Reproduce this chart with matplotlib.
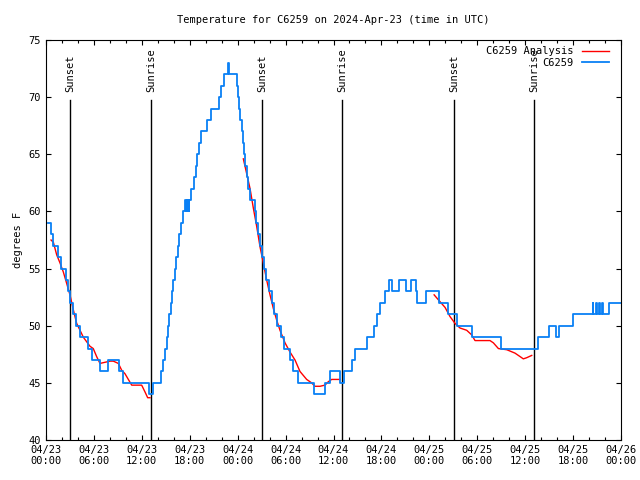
import matplotlib
matplotlib.use("Agg")
import matplotlib.pyplot as plt

plt.rcParams['font.family'] = ['DejaVu Sans Mono']

# hours since 2024-04-23 00:00 UTC
# observed temperature (changes, held until the next change)
obs_t = [0.29, 0.6, 0.9, 1.5, 1.93, 2.45, 2.78, 3.05, 3.4, 3.73, 4.3, 5.2, 5.76,
         6.74, 7.74, 9.15, 9.64, 12.87, 13.45, 14.45, 14.7, 14.9, 15.1, 15.3,
         15.45, 15.65, 15.8, 15.95, 16.15, 16.3, 16.5, 16.68, 16.9, 17.15, 17.4,
         17.55, 17.62, 17.7, 17.78, 17.85, 17.92, 18.2, 18.55, 18.75, 18.95,
         19.12, 19.45, 20.2, 20.65, 21.65, 21.95, 22.25, 22.75, 22.9, 23.9,
         24.05, 24.2, 24.35, 24.48, 24.62, 24.78, 24.95, 25.15, 25.35, 25.6,
         26.12, 26.28, 26.5, 26.78, 27.0, 27.35, 27.6, 27.95, 28.3, 28.6, 28.95,
         29.4, 29.8, 30.6, 30.9, 31.6, 33.6, 34.95, 35.55, 36.78, 37.35, 38.3,
         38.7, 40.15, 41.05, 41.5, 41.85, 42.4, 42.9, 43.35, 44.15, 45.1, 45.75,
         46.3, 46.45, 47.6, 49.15, 50.4, 51.45, 53.3, 57.0, 61.6, 63.0, 63.85,
         64.2, 66.0, 68.45, 68.55, 68.85, 68.95, 69.25, 69.35, 69.6, 69.75,
         70.45, 71.95]
obs_temp = [59, 58, 57, 56, 55, 54, 53, 52, 51, 50, 49, 48, 47,
            46, 47, 46, 45, 44, 45, 46, 47, 48, 49, 50,
            51, 52, 53, 54, 55, 56, 57, 58, 59, 60, 61,
            60, 61, 60, 61, 60, 61, 62, 63, 64, 65,
            66, 67, 68, 69, 70, 71, 72, 73, 72, 71,
            70, 69, 68, 67, 66, 65, 64, 63, 62, 61,
            60, 59, 58, 57, 56, 55, 54, 53, 52, 51, 50,
            49, 48, 47, 46, 45, 44, 45, 46, 45, 46, 47,
            48, 49, 50, 51, 52, 53, 54, 53, 54, 53, 54,
            53, 52, 53, 52, 51, 50, 49, 48, 49, 50, 49,
            50, 51, 52, 51, 52, 51, 52, 51, 52, 51,
            52, 52]

# analysis temperature, three pieces
ana1_t = [0.63, 0.92, 1.34, 1.75, 2.17, 2.59, 3.0, 3.42, 3.84, 4.26, 4.67, 5.09,
          5.51, 5.92, 6.34, 6.76, 7.39, 8.01, 8.43, 9.06, 9.48, 9.89, 10.31,
          10.73, 11.98, 12.4, 12.73, 13.02]
ana1_temp = [57.5, 57.3, 56.2, 55.5, 54.7, 53.7, 52.7, 51.4, 50.2, 49.6, 49.0, 48.6,
             48.2, 48.0, 47.3, 46.7, 46.8, 46.9, 46.9, 46.7, 46.1, 45.8, 45.3,
             44.8, 44.8, 44.2, 43.7, 43.7]
ana2_t = [24.71, 25.13, 25.55, 25.96, 26.38, 26.8, 27.21, 27.63, 28.05, 28.47,
          28.88, 29.3, 29.93, 30.55, 31.18, 31.8, 32.64, 33.26, 33.68, 34.31,
          34.93, 35.35, 35.77, 36.39, 36.81]
ana2_temp = [64.6, 63.3, 62.0, 60.3, 58.7, 56.9, 55.5, 54.0, 52.7, 51.5,
             50.5, 49.6, 48.5, 47.7, 47.0, 46.0, 45.3, 45.0, 44.7, 44.7,
             44.8, 45.1, 45.3, 45.3, 45.3]
ana3_t = [48.6, 49.34, 49.97, 50.59, 51.22, 51.84, 52.68, 53.3, 53.72, 54.35,
          55.6, 56.02, 56.65, 57.7, 58.73, 59.36, 59.77, 60.19, 60.82]
ana3_temp = [52.7, 52.1, 51.6, 50.8, 50.2, 49.8, 49.6, 49.2, 48.7, 48.7,
             48.7, 48.5, 48.0, 47.9, 47.6, 47.3, 47.1, 47.2, 47.4]

sun_t = [3.05, 13.18, 27.09, 37.1, 51.13, 61.15]
sun_names = ["Sunset", "Sunrise", "Sunset", "Sunrise", "Sunset", "Sunrise"]

tick_hours = list(range(0, 73, 6))
tick_labels = ["04/23\n00:00", "04/23\n06:00", "04/23\n12:00", "04/23\n18:00",
               "04/24\n00:00", "04/24\n06:00", "04/24\n12:00", "04/24\n18:00",
               "04/25\n00:00", "04/25\n06:00", "04/25\n12:00", "04/25\n18:00",
               "04/26\n00:00"]

fig = plt.figure(figsize=(6.4, 4.8), dpi=100)
ax = fig.add_axes([46 / 640, 40 / 480, 575 / 640, 400 / 480])

for t, name in zip(sun_t, sun_names):
    ax.axvline(t, ymin=0, ymax=0.85, color='black', lw=1)
    ax.text(t, 0.87, name, transform=ax.get_xaxis_transform(), rotation=90,
            ha='center', va='bottom', fontsize=7.5)

ax.plot(ana1_t, ana1_temp, color='#ff0000', lw=1, label='C6259 Analysis')
ax.plot(ana2_t, ana2_temp, color='#ff0000', lw=1)
ax.plot(ana3_t, ana3_temp, color='#ff0000', lw=1)
ax.step(obs_t, obs_temp, where='post', color='#0a80f5', lw=1.3, label='C6259')

ax.set_xlim(0, 72)
ax.set_ylim(40, 75)
ax.set_xticks(tick_hours)
ax.set_xticklabels(tick_labels, fontsize=7.5)
ax.set_xticks(range(0, 73, 2), minor=True)
ax.set_yticks(range(40, 76, 5))
ax.tick_params(axis='y', labelsize=7.5)
ax.tick_params(which='both', direction='in', top=True, right=True, width=0.8)
ax.tick_params(which='major', length=3.5)
ax.tick_params(which='minor', length=2.5)
ax.set_ylabel("degrees F", fontsize=7.5, labelpad=4)

fig.text(333 / 640, 1 - 20 / 480, "Temperature for C6259 on 2024-Apr-23 (time in UTC)",
         ha='center', va='center', fontsize=7.5)

ax.legend(loc='upper right', bbox_to_anchor=(0.986, 0.995), frameon=False,
          markerfirst=False, fontsize=7.5, handlelength=2.6, labelspacing=0.15,
          borderaxespad=0)

fig.savefig("out.png", dpi=100)
